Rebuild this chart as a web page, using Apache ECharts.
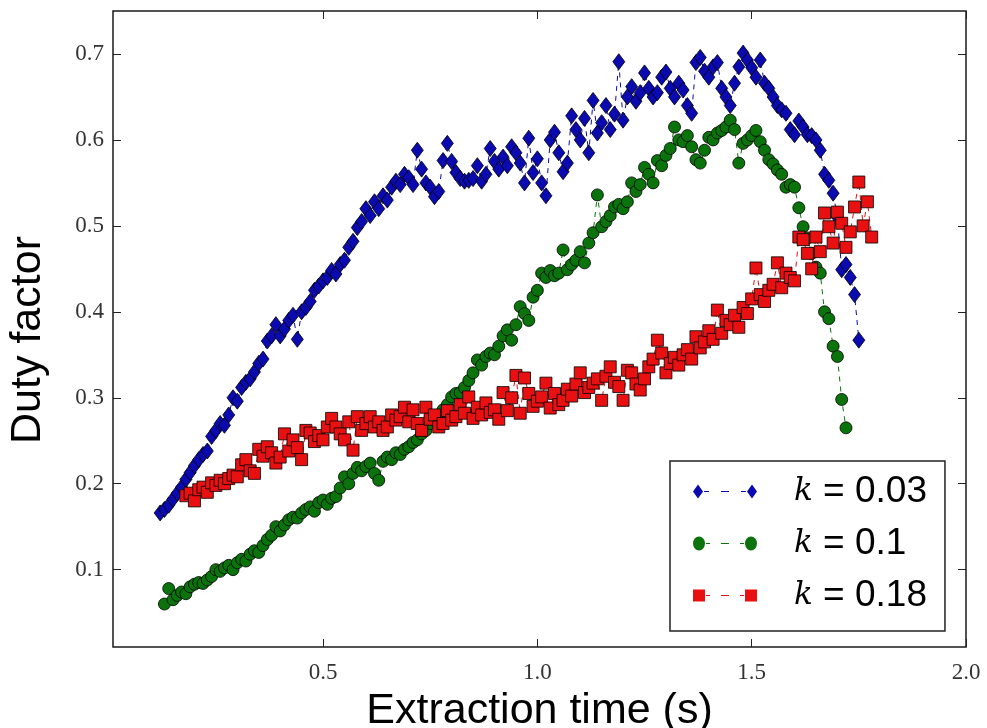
<!DOCTYPE html>
<html>
<head>
<meta charset="utf-8">
<title>Duty factor vs extraction time</title>
<script src="https://cdn.jsdelivr.net/npm/echarts/dist/echarts.min.js"></script>
<style>
  html, body { margin: 0; padding: 0; background: #ffffff; }
  #chart { width: 987px; height: 728px; }
</style>
</head>
<body>
<div id="chart"></div>
<script>
// Extraction time (s) and measured duty factor for three values of k

const kLabels = ['0.03', '0.1', '0.18'];
const seriesColors = ['#0a0ab0', '#0b730b', '#e81010'];

const xTicks = [0.5, 1.0, 1.5, 2.0];
const yTicks = [0.1, 0.2, 0.3, 0.4, 0.5, 0.6, 0.7];

// k = 0.03
const timeK003 = [
  0.12, 0.13, 0.14, 0.15, 0.16, 0.17, 0.18, 0.19,
  0.20, 0.21, 0.22, 0.23, 0.24, 0.25, 0.26, 0.27, 0.28, 0.29,
  0.30, 0.31, 0.32, 0.33, 0.34, 0.35, 0.36, 0.37, 0.38, 0.39,
  0.40, 0.41, 0.42, 0.43, 0.44, 0.45, 0.46, 0.47, 0.48, 0.49,
  0.50, 0.51, 0.52, 0.53, 0.54, 0.55, 0.56, 0.57, 0.58, 0.59,
  0.60, 0.61, 0.62, 0.63, 0.64, 0.65, 0.66, 0.67, 0.68, 0.69,
  0.70, 0.71, 0.72, 0.73, 0.74, 0.75, 0.76, 0.77, 0.78, 0.79,
  0.80, 0.81, 0.82, 0.83, 0.84, 0.85, 0.86, 0.87, 0.88, 0.89,
  0.90, 0.91, 0.92, 0.93, 0.94, 0.95, 0.96, 0.97, 0.98, 0.99,
  1.00, 1.01, 1.02, 1.03, 1.04, 1.05, 1.06, 1.07, 1.08, 1.09,
  1.10, 1.11, 1.12, 1.13, 1.14, 1.15, 1.16, 1.17, 1.18, 1.19,
  1.20, 1.21, 1.22, 1.23, 1.24, 1.25, 1.26, 1.27, 1.28, 1.29,
  1.30, 1.31, 1.32, 1.33, 1.34, 1.35, 1.36, 1.37, 1.38, 1.39,
  1.40, 1.41, 1.42, 1.43, 1.44, 1.45, 1.46, 1.47, 1.48, 1.49,
  1.50, 1.51, 1.52, 1.53, 1.54, 1.55, 1.56, 1.57, 1.58, 1.59,
  1.60, 1.61, 1.62, 1.63, 1.64, 1.65, 1.66, 1.67, 1.68, 1.69,
  1.70, 1.71, 1.72, 1.73, 1.74, 1.75
];
const dutyK003 = [
  0.166, 0.170, 0.175, 0.182, 0.189, 0.196, 0.205, 0.213,
  0.221, 0.228, 0.234, 0.238, 0.255, 0.262, 0.270, 0.268, 0.280, 0.300,
  0.296, 0.312, 0.318, 0.322, 0.330, 0.340, 0.345, 0.366, 0.372, 0.385,
  0.372, 0.380, 0.390, 0.396, 0.368, 0.400, 0.405, 0.412, 0.425, 0.430,
  0.436, 0.440, 0.448, 0.444, 0.455, 0.460, 0.475, 0.482, 0.498, 0.505,
  0.520, 0.512, 0.528, 0.520, 0.535, 0.530, 0.545, 0.552, 0.548, 0.560,
  0.556, 0.548, 0.588, 0.566, 0.550, 0.545, 0.534, 0.540, 0.576, 0.596,
  0.575, 0.562, 0.555, 0.552, 0.553, 0.555, 0.570, 0.552, 0.560, 0.590,
  0.575, 0.566, 0.580, 0.570, 0.592, 0.585, 0.573, 0.550, 0.602, 0.562,
  0.578, 0.550, 0.535, 0.600, 0.609, 0.585, 0.563, 0.573, 0.628, 0.612,
  0.600, 0.625, 0.585, 0.646, 0.608, 0.620, 0.640, 0.612, 0.630, 0.691,
  0.623, 0.650, 0.662, 0.645, 0.655, 0.678, 0.660, 0.650, 0.655, 0.673,
  0.679, 0.660, 0.650, 0.666, 0.658, 0.640, 0.631, 0.690, 0.696, 0.680,
  0.673, 0.685, 0.690, 0.660, 0.650, 0.640, 0.666, 0.685, 0.701, 0.693,
  0.684, 0.673, 0.693, 0.666, 0.660, 0.650, 0.640, 0.635, 0.631, 0.612,
  0.606, 0.622, 0.615, 0.606, 0.605, 0.600, 0.588, 0.560, 0.553, 0.538,
  0.510, 0.449, 0.455, 0.440, 0.420, 0.367
];

// k = 0.1
const timeK01 = [
  0.13, 0.14, 0.15, 0.16, 0.17, 0.18, 0.19,
  0.20, 0.21, 0.22, 0.23, 0.24, 0.25, 0.26, 0.27, 0.28, 0.29,
  0.30, 0.31, 0.32, 0.33, 0.34, 0.35, 0.36, 0.37, 0.38, 0.39,
  0.40, 0.41, 0.42, 0.43, 0.44, 0.45, 0.46, 0.47, 0.48, 0.49,
  0.50, 0.51, 0.52, 0.53, 0.54, 0.55, 0.56, 0.57, 0.58, 0.59,
  0.60, 0.61, 0.62, 0.63, 0.64, 0.65, 0.66, 0.67, 0.68, 0.69,
  0.70, 0.71, 0.72, 0.73, 0.74, 0.75, 0.76, 0.77, 0.78, 0.79,
  0.80, 0.81, 0.82, 0.83, 0.84, 0.85, 0.86, 0.87, 0.88, 0.89,
  0.90, 0.91, 0.92, 0.93, 0.94, 0.95, 0.96, 0.97, 0.98, 0.99,
  1.00, 1.01, 1.02, 1.03, 1.04, 1.05, 1.06, 1.07, 1.08, 1.09,
  1.10, 1.11, 1.12, 1.13, 1.14, 1.15, 1.16, 1.17, 1.18, 1.19,
  1.20, 1.21, 1.22, 1.23, 1.24, 1.25, 1.26, 1.27, 1.28, 1.29,
  1.30, 1.31, 1.32, 1.33, 1.34, 1.35, 1.36, 1.37, 1.38, 1.39,
  1.40, 1.41, 1.42, 1.43, 1.44, 1.45, 1.46, 1.47, 1.48, 1.49,
  1.50, 1.51, 1.52, 1.53, 1.54, 1.55, 1.56, 1.57, 1.58, 1.59,
  1.60, 1.61, 1.62, 1.63, 1.64, 1.65, 1.66, 1.67, 1.68, 1.69,
  1.70, 1.71, 1.72
];
const dutyK01 = [
  0.060, 0.078, 0.065, 0.070, 0.074, 0.072, 0.080,
  0.083, 0.085, 0.084, 0.088, 0.092, 0.100, 0.098, 0.102, 0.105, 0.100,
  0.108, 0.112, 0.110, 0.118, 0.122, 0.120, 0.128, 0.135, 0.140, 0.150,
  0.145, 0.152, 0.158, 0.161, 0.160, 0.166, 0.170, 0.173, 0.168, 0.178,
  0.181, 0.176, 0.183, 0.185, 0.195, 0.208, 0.200, 0.212, 0.219, 0.215,
  0.220, 0.224, 0.212, 0.204, 0.226, 0.231, 0.228, 0.236, 0.234, 0.240,
  0.243, 0.248, 0.251, 0.258, 0.262, 0.270, 0.274, 0.280, 0.286, 0.292,
  0.301, 0.305, 0.306, 0.312, 0.320, 0.329, 0.344, 0.338, 0.348, 0.352,
  0.350, 0.360, 0.372, 0.379, 0.367, 0.385, 0.406, 0.398, 0.390, 0.417,
  0.425, 0.445, 0.440, 0.448, 0.442, 0.445, 0.472, 0.449, 0.455, 0.460,
  0.470, 0.457, 0.480, 0.492, 0.536, 0.499, 0.505, 0.512, 0.522, 0.525,
  0.520, 0.528, 0.550, 0.540, 0.548, 0.568, 0.560, 0.550, 0.576, 0.570,
  0.582, 0.590, 0.615, 0.600, 0.598, 0.605, 0.592, 0.577, 0.573, 0.588,
  0.603, 0.600, 0.608, 0.611, 0.615, 0.623, 0.612, 0.573, 0.596, 0.600,
  0.605, 0.611, 0.598, 0.588, 0.577, 0.572, 0.565, 0.560, 0.545, 0.548,
  0.545, 0.521, 0.499, 0.486, 0.468, 0.452, 0.445, 0.400, 0.392, 0.360,
  0.348, 0.298, 0.265
];

// k = 0.18
const timeK018 = [
  0.18, 0.19,
  0.20, 0.21, 0.22, 0.23, 0.24, 0.25, 0.26, 0.27, 0.28, 0.29,
  0.30, 0.31, 0.32, 0.33, 0.34, 0.35, 0.36, 0.37, 0.38, 0.39,
  0.40, 0.41, 0.42, 0.43, 0.44, 0.45, 0.46, 0.47, 0.48, 0.49,
  0.50, 0.51, 0.52, 0.53, 0.54, 0.55, 0.56, 0.57, 0.58, 0.59,
  0.60, 0.61, 0.62, 0.63, 0.64, 0.65, 0.66, 0.67, 0.68, 0.69,
  0.70, 0.71, 0.72, 0.73, 0.74, 0.75, 0.76, 0.77, 0.78, 0.79,
  0.80, 0.81, 0.82, 0.83, 0.84, 0.85, 0.86, 0.87, 0.88, 0.89,
  0.90, 0.91, 0.92, 0.93, 0.94, 0.95, 0.96, 0.97, 0.98, 0.99,
  1.00, 1.01, 1.02, 1.03, 1.04, 1.05, 1.06, 1.07, 1.08, 1.09,
  1.10, 1.11, 1.12, 1.13, 1.14, 1.15, 1.16, 1.17, 1.18, 1.19,
  1.20, 1.21, 1.22, 1.23, 1.24, 1.25, 1.26, 1.27, 1.28, 1.29,
  1.30, 1.31, 1.32, 1.33, 1.34, 1.35, 1.36, 1.37, 1.38, 1.39,
  1.40, 1.41, 1.42, 1.43, 1.44, 1.45, 1.46, 1.47, 1.48, 1.49,
  1.50, 1.51, 1.52, 1.53, 1.54, 1.55, 1.56, 1.57, 1.58, 1.59,
  1.60, 1.61, 1.62, 1.63, 1.64, 1.65, 1.66, 1.67, 1.68, 1.69,
  1.70, 1.71, 1.72, 1.73, 1.74, 1.75, 1.76, 1.77, 1.78
];
const dutyK018 = [
  0.186, 0.189,
  0.180, 0.193, 0.196, 0.190, 0.201, 0.198, 0.204, 0.200, 0.206, 0.210,
  0.208, 0.222, 0.228, 0.215, 0.212, 0.240, 0.232, 0.243, 0.236, 0.224,
  0.231, 0.258, 0.238, 0.251, 0.242, 0.228, 0.262, 0.259, 0.249, 0.256,
  0.251, 0.266, 0.276, 0.266, 0.258, 0.251, 0.272, 0.239, 0.278, 0.262,
  0.270, 0.278, 0.266, 0.272, 0.262, 0.266, 0.280, 0.274, 0.278, 0.289,
  0.272, 0.286, 0.270, 0.262, 0.289, 0.275, 0.280, 0.266, 0.270, 0.285,
  0.274, 0.278, 0.292, 0.282, 0.301, 0.276, 0.289, 0.280, 0.294, 0.283,
  0.286, 0.275, 0.306, 0.285, 0.300, 0.326, 0.282, 0.323, 0.305, 0.290,
  0.296, 0.301, 0.317, 0.288, 0.305, 0.292, 0.297, 0.310, 0.302, 0.316,
  0.329, 0.306, 0.312, 0.317, 0.322, 0.297, 0.325, 0.336, 0.318, 0.313,
  0.297, 0.332, 0.329, 0.316, 0.309, 0.322, 0.336, 0.345, 0.367, 0.352,
  0.329, 0.340, 0.347, 0.338, 0.350, 0.356, 0.345, 0.371, 0.358, 0.365,
  0.378, 0.368, 0.402, 0.375, 0.390, 0.385, 0.396, 0.382, 0.405, 0.398,
  0.415, 0.451, 0.420, 0.412, 0.425, 0.432, 0.457, 0.428, 0.445, 0.440,
  0.436, 0.487, 0.484, 0.468, 0.450, 0.487, 0.470, 0.515, 0.499, 0.480,
  0.516, 0.503, 0.475, 0.493, 0.522, 0.551, 0.500, 0.528, 0.487
];

const seriesTimes = [timeK003, timeK01, timeK018];
const seriesDuty = [dutyK003, dutyK01, dutyK018];

// marker shapes per series and matching legend keys (marker - dash - marker)
const markerShapes = ['diamond', 'circle', 'rect'];
const markerSizes = [[12, 16], 12, 12];
const legendKeys = [
  'path://M5 0L10 7L5 14L0 7ZM11 6.4H16V7.6H11ZM28 6.4H36V7.6H28ZM48 6.4H53V7.6H48ZM59 0L64 7L59 14L54 7Z',
  'path://M0 7A6 7 0 1 0 12 7A6 7 0 1 0 0 7ZM13 6.4H17V7.6H13ZM28 6.4H36V7.6H28ZM47 6.4H51V7.6H47ZM52 7A6 7 0 1 0 64 7A6 7 0 1 0 52 7Z',
  'path://M0 1H12V13H0ZM13 6.4H17V7.6H13ZM28 6.4H36V7.6H28ZM47 6.4H51V7.6H47ZM52 1H64V13H52Z'
];

const seriesNames = kLabels.map(v => 'k = ' + v);

const chart = echarts.init(document.getElementById('chart'), null, { renderer: 'canvas' });

const tickFont = { fontFamily: 'Liberation Serif', fontSize: 23, color: '#333' };

const option = {
  animation: false,
  backgroundColor: '#ffffff',
  grid: {
    left: 113, right: 21, top: 11, bottom: 81,
    outerBoundsMode: 'none',
    containLabel: false,
    show: true, borderColor: '#1a1a1a', borderWidth: 1.5, backgroundColor: 'transparent'
  },
  legend: {
    orient: 'vertical',
    left: 670,
    top: 461,
    padding: [12, 18, 17, 23],
    itemGap: 15,
    itemWidth: 64,
    itemHeight: 14,
    borderColor: '#222',
    borderWidth: 1.5,
    backgroundColor: '#ffffff',
    data: seriesNames.map((n, i) => ({ name: n, icon: legendKeys[i] })),
    itemStyle: { borderWidth: 0 },
    formatter: function (name) {
      const v = kLabels[seriesNames.indexOf(name)];
      return '{g|}{k|k}{t| = ' + v + '}';
    },
    textStyle: {
      rich: {
        g: { width: 32, height: 37 },
        k: { fontFamily: 'DejaVu Serif', fontStyle: 'italic', fontSize: 31, color: '#000', height: 37 },
        t: { fontFamily: 'Liberation Sans', fontSize: 37, color: '#000', height: 37 }
      }
    }
  },
  xAxis: [
    {
      type: 'value', min: 0.01, max: 2.0,
      name: 'Extraction time (s)', nameLocation: 'middle', nameGap: 43,
      nameTextStyle: { fontFamily: 'Liberation Sans', fontSize: 43, color: '#000' },
      axisLine: { show: false },
      splitLine: { show: false },
      axisTick: { show: true, inside: true, length: 8, customValues: xTicks, lineStyle: { color: '#222', width: 1 } },
      axisLabel: Object.assign({ margin: 14, customValues: xTicks, formatter: v => v.toFixed(1) }, tickFont)
    },
    {
      type: 'value', min: 0.01, max: 2.0, position: 'top',
      axisLine: { show: false },
      splitLine: { show: false },
      axisTick: { show: true, inside: true, length: 8, customValues: xTicks, lineStyle: { color: '#222', width: 1 } },
      axisLabel: { show: false }
    }
  ],
  yAxis: [
    {
      type: 'value', min: 0.01, max: 0.75,
      name: 'Duty factor', nameLocation: 'middle', nameGap: 63,
      nameTextStyle: { fontFamily: 'Liberation Sans', fontSize: 43, color: '#000', padding: [0, 22, 0, 0] },
      axisLine: { show: false },
      splitLine: { show: false },
      axisTick: { show: true, inside: true, length: 8, customValues: yTicks, lineStyle: { color: '#222', width: 1 } },
      axisLabel: Object.assign({ margin: 9, customValues: yTicks, formatter: v => v.toFixed(1) }, tickFont)
    },
    {
      type: 'value', min: 0.01, max: 0.75, position: 'right',
      axisLine: { show: false },
      splitLine: { show: false },
      axisTick: { show: true, inside: true, length: 8, customValues: yTicks, lineStyle: { color: '#222', width: 1 } },
      axisLabel: { show: false }
    }
  ],
  series: seriesNames.map((name, i) => ({
    name: name,
    type: 'line',
    xAxisIndex: 0,
    yAxisIndex: 0,
    data: seriesTimes[i].map((t, j) => [t, seriesDuty[i][j]]),
    symbol: markerShapes[i],
    symbolSize: markerSizes[i],
    showSymbol: true,
    itemStyle: { color: seriesColors[i], borderColor: '#000', borderWidth: 0.8 },
    lineStyle: { color: seriesColors[i], width: 1, type: [5, 5] },
    emphasis: { disabled: true }
  }))
};

chart.setOption(option);
</script>
</body>
</html>
